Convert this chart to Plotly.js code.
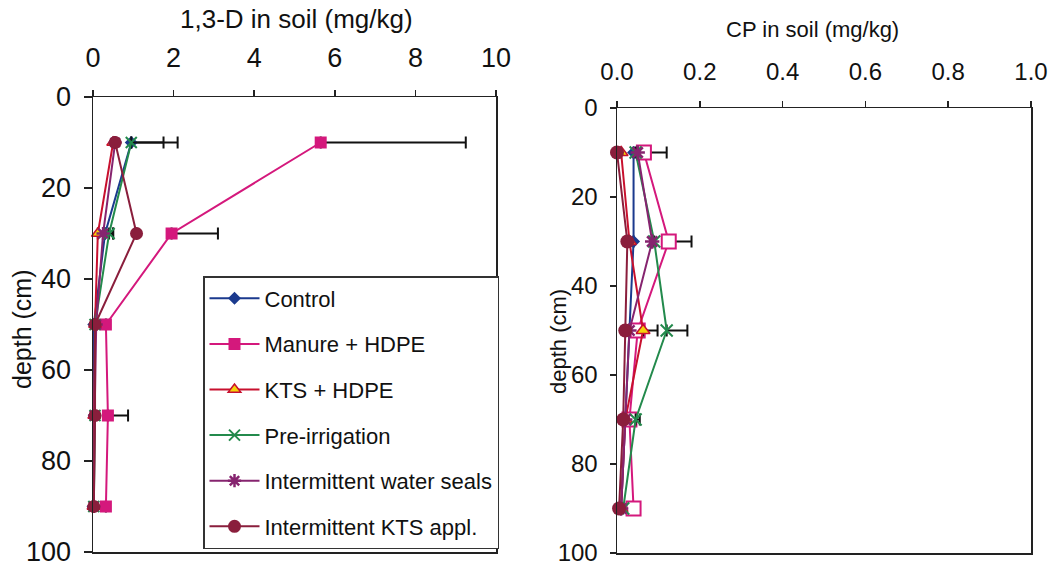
<!DOCTYPE html>
<html>
<head>
<meta charset="utf-8">
<script src="https://cdn.plot.ly/plotly-3.0.1.min.js"></script>
<style>html,body{margin:0;padding:0;background:#fff;}#chart{width:1051px;height:569px;}</style>
</head>
<body>
<div id="chart"></div>
<script>
// ---- data ----
const depths = [10, 30, 50, 70, 90];
const seriesNames = ["Control", "Manure + HDPE", "KTS + HDPE", "Pre-irrigation", "Intermittent water seals", "Intermittent KTS appl."];

// 1,3-D in soil (mg/kg)
const d13_control   = [0.95, 0.30, 0.02, 0.03, 0.00];
const d13_manure    = [5.65, 1.95, 0.32, 0.37, 0.32];
const d13_ktsHdpe   = [0.50, 0.12, 0.05, 0.03, 0.01];
const d13_preIrr    = [0.95, 0.40, 0.05, 0.05, 0.02];
const d13_seals     = [0.55, 0.25, 0.08, 0.04, 0.02];
const d13_ktsAppl   = [0.55, 1.08, 0.05, 0.05, 0.02];
const d13_err_control = [1.15, 0.20, 0.00, 0.00, 0.00];
const d13_err_manure  = [3.60, 1.15, 0.00, 0.50, 0.00];
const d13_err_ktsHdpe = [0.00, 0.00, 0.00, 0.00, 0.00];
const d13_err_preIrr  = [0.80, 0.10, 0.00, 0.00, 0.00];
const d13_err_seals   = [0.00, 0.00, 0.00, 0.00, 0.00];
const d13_err_ktsAppl = [0.00, 0.00, 0.00, 0.00, 0.00];

// CP in soil (mg/kg)
const cp_control   = [0.040, 0.040, 0.030, 0.020, 0.010];
const cp_manure    = [0.065, 0.125, 0.050, 0.030, 0.040];
const cp_ktsHdpe   = [0.010, 0.030, 0.063, 0.020, 0.010];
const cp_preIrr    = [0.045, 0.090, 0.120, 0.045, 0.015];
const cp_seals     = [0.050, 0.085, 0.030, 0.020, 0.010];
const cp_ktsAppl   = [0.000, 0.025, 0.020, 0.015, 0.005];
const cp_err_control = [0.000, 0.000, 0.000, 0.000, 0.000];
const cp_err_manure  = [0.055, 0.055, 0.000, 0.000, 0.000];
const cp_err_ktsHdpe = [0.000, 0.000, 0.035, 0.000, 0.000];
const cp_err_preIrr  = [0.000, 0.000, 0.050, 0.010, 0.000];
const cp_err_seals   = [0.000, 0.000, 0.000, 0.000, 0.000];
const cp_err_ktsAppl = [0.000, 0.000, 0.000, 0.000, 0.000];

const xTicksLeft = [0, 2, 4, 6, 8, 10];
const xTicksRight = [0, 0.2, 0.4, 0.6, 0.8, 1.0];
const xTickTextRight = ["0.0", "0.2", "0.4", "0.6", "0.8", "1.0"];
const yTicks = [0, 20, 40, 60, 80, 100];

// ---- styles ----
const FONT = '"Liberation Sans", Arial, Helvetica, sans-serif';
const colors = ["#1b3a8e", "#d4187c", "#c8102e", "#238a4c", "#86246f", "#8a1e3c"];
const markersLeft = [
  {symbol: "diamond", size: 10, color: colors[0], line: {width: 0}},
  {symbol: "square", size: 12, color: colors[1], line: {width: 0}},
  {symbol: "triangle-up", size: 11, color: "#f5d20a", line: {width: 1.5, color: colors[2]}},
  {symbol: "x-thin-open", size: 11, color: colors[3], line: {width: 2, color: colors[3]}},
  {symbol: "asterisk-open", size: 11, color: colors[4], line: {width: 2.5, color: colors[4]}},
  {symbol: "circle", size: 13, color: colors[5], line: {width: 0}}
];
const markersRight = [
  {symbol: "diamond", size: 10, color: colors[0], line: {width: 0}},
  {symbol: "square", size: 14, color: "#ffffff", line: {width: 2, color: colors[1]}},
  {symbol: "triangle-up", size: 12, color: "#f5d20a", line: {width: 1.5, color: colors[2]}},
  {symbol: "x-thin-open", size: 12, color: colors[3], line: {width: 2, color: colors[3]}},
  {symbol: "asterisk-open", size: 12, color: colors[4], line: {width: 2.5, color: colors[4]}},
  {symbol: "circle", size: 14, color: colors[5], line: {width: 0}}
];

const leftVals = [d13_control, d13_manure, d13_ktsHdpe, d13_preIrr, d13_seals, d13_ktsAppl];
const leftErrs = [d13_err_control, d13_err_manure, d13_err_ktsHdpe, d13_err_preIrr, d13_err_seals, d13_err_ktsAppl];
const rightVals = [cp_control, cp_manure, cp_ktsHdpe, cp_preIrr, cp_seals, cp_ktsAppl];
const rightErrs = [cp_err_control, cp_err_manure, cp_err_ktsHdpe, cp_err_preIrr, cp_err_seals, cp_err_ktsAppl];

function errX(arr) {
  return {type: "data", symmetric: false, array: arr, arrayminus: arr.map(() => 0),
          color: "#111", thickness: 2, width: 6};
}

const traces = [];
seriesNames.forEach((name, i) => {
  traces.push({
    x: leftVals[i], y: depths, type: "scatter", mode: "lines+markers", name: name,
    legendgroup: "g" + i, showlegend: true,
    line: {color: colors[i], width: 2}, marker: markersLeft[i],
    error_x: errX(leftErrs[i]), xaxis: "x", yaxis: "y", cliponaxis: false
  });
});
seriesNames.forEach((name, i) => {
  traces.push({
    x: rightVals[i], y: depths, type: "scatter", mode: "lines+markers", name: name,
    legendgroup: "g" + i, showlegend: false,
    line: {color: colors[i], width: 2}, marker: markersRight[i],
    error_x: errX(rightErrs[i]), xaxis: "x2", yaxis: "y2", cliponaxis: false
  });
});

const W = 1051, H = 569;
const axisCommon = {
  showline: true, linecolor: "#222", linewidth: 1.5, mirror: true,
  showgrid: false, zeroline: false, ticks: "outside", tickcolor: "#222",
  tickwidth: 1.5, fixedrange: true
};

const layout = {
  width: W, height: H,
  margin: {l: 0, r: 0, t: 0, b: 0},
  paper_bgcolor: "#ffffff", plot_bgcolor: "#ffffff",
  font: {family: FONT, color: "#111"},
  showlegend: true,
  legend: {
    x: 203 / W, y: 1 - 276 / H, xanchor: "left", yanchor: "top",
    bordercolor: "#333", borderwidth: 1.5, bgcolor: "#ffffff",
    font: {family: FONT, size: 22, color: "#111"},
    tracegroupgap: 14, itemwidth: 50
  },
  xaxis: Object.assign({}, axisCommon, {
    domain: [93 / W, 496 / W], range: [0, 10], side: "top", anchor: "y",
    tickmode: "array", tickvals: xTicksLeft, ticktext: xTicksLeft.map(String),
    ticklen: 6, tickfont: {family: FONT, size: 27, color: "#111"}, ticklabelstandoff: 12
  }),
  yaxis: Object.assign({}, axisCommon, {
    domain: [1 - 552 / H, 1 - 97 / H], range: [100, 0], anchor: "x",
    tickmode: "array", tickvals: yTicks, ticktext: yTicks.map(String),
    ticklen: 8, tickfont: {family: FONT, size: 27, color: "#111"}, ticklabelstandoff: 7
  }),
  xaxis2: Object.assign({}, axisCommon, {
    domain: [617 / W, 1031 / W], range: [0, 1], side: "top", anchor: "y2",
    tickmode: "array", tickvals: xTicksRight, ticktext: xTickTextRight,
    ticklen: 6, tickfont: {family: FONT, size: 24, color: "#111"}, ticklabelstandoff: 11
  }),
  yaxis2: Object.assign({}, axisCommon, {
    domain: [1 - 553 / H, 1 - 108 / H], range: [100, 0], anchor: "x2",
    tickmode: "array", tickvals: yTicks, ticktext: yTicks.map(String),
    ticklen: 6, tickfont: {family: FONT, size: 24, color: "#111"}, ticklabelstandoff: 7
  }),
  annotations: [
    {text: "1,3-D in soil (mg/kg)", xref: "paper", yref: "paper", x: 296 / W, y: 1 - 19 / H,
     xanchor: "center", yanchor: "middle", showarrow: false, font: {family: FONT, size: 26, color: "#111"}},
    {text: "depth (cm)", xref: "paper", yref: "paper", x: 22 / W, y: 1 - 330 / H, textangle: -90,
     xanchor: "center", yanchor: "middle", showarrow: false, font: {family: FONT, size: 25, color: "#111"}},
    {text: "CP in soil (mg/kg)", xref: "paper", yref: "paper", x: 812 / W, y: 1 - 30 / H,
     xanchor: "center", yanchor: "middle", showarrow: false, font: {family: FONT, size: 22, color: "#111"}},
    {text: "depth (cm)", xref: "paper", yref: "paper", x: 558 / W, y: 1 - 342 / H, textangle: -90,
     xanchor: "center", yanchor: "middle", showarrow: false, font: {family: FONT, size: 22, color: "#111"}}
  ]
};

Plotly.newPlot("chart", traces, layout, {displayModeBar: false, staticPlot: true});
</script>
</body>
</html>
